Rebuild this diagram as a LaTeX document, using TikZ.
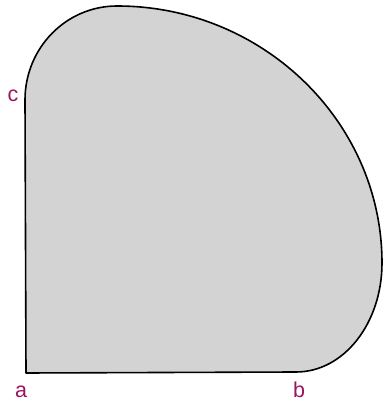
\documentclass[tikz,border=0pt]{standalone}
\usepackage{fontspec}
\setmainfont{Liberation Sans}
\definecolor{lblcol}{RGB}{155,20,95}
\definecolor{fillgray}{RGB}{211,211,211}
\tikzset{
  lbl/.style={text=lblcol, font=\fontsize{21.5}{24}\selectfont, inner sep=0pt, anchor=base},
  shapeline/.style={draw=black, line width=1.6pt, fill=fillgray, line join=round}
}
\begin{document}
\begin{tikzpicture}[x=1pt,y=1pt]
\useasboundingbox (0,0) rectangle (383,402);
\coordinate (a) at (26,29);
\coordinate (b) at (296,30);
\coordinate (c) at (25,302);
\coordinate (r) at (382,139);
\coordinate (t) at (117,396);
\path[shapeline] (a) -- (b)
  .. controls (344,30) and (382,79) .. (r)
  .. controls (382,280) and (263,396) .. (t)
  .. controls (66,396) and (25,354) .. (c)
  -- cycle;
\node[lbl] (la) at (21,5) {a};
\node[lbl] (lb) at (299,5) {b};
\node[lbl] (lc) at (13,300) {c};
\end{tikzpicture}
\end{document}
